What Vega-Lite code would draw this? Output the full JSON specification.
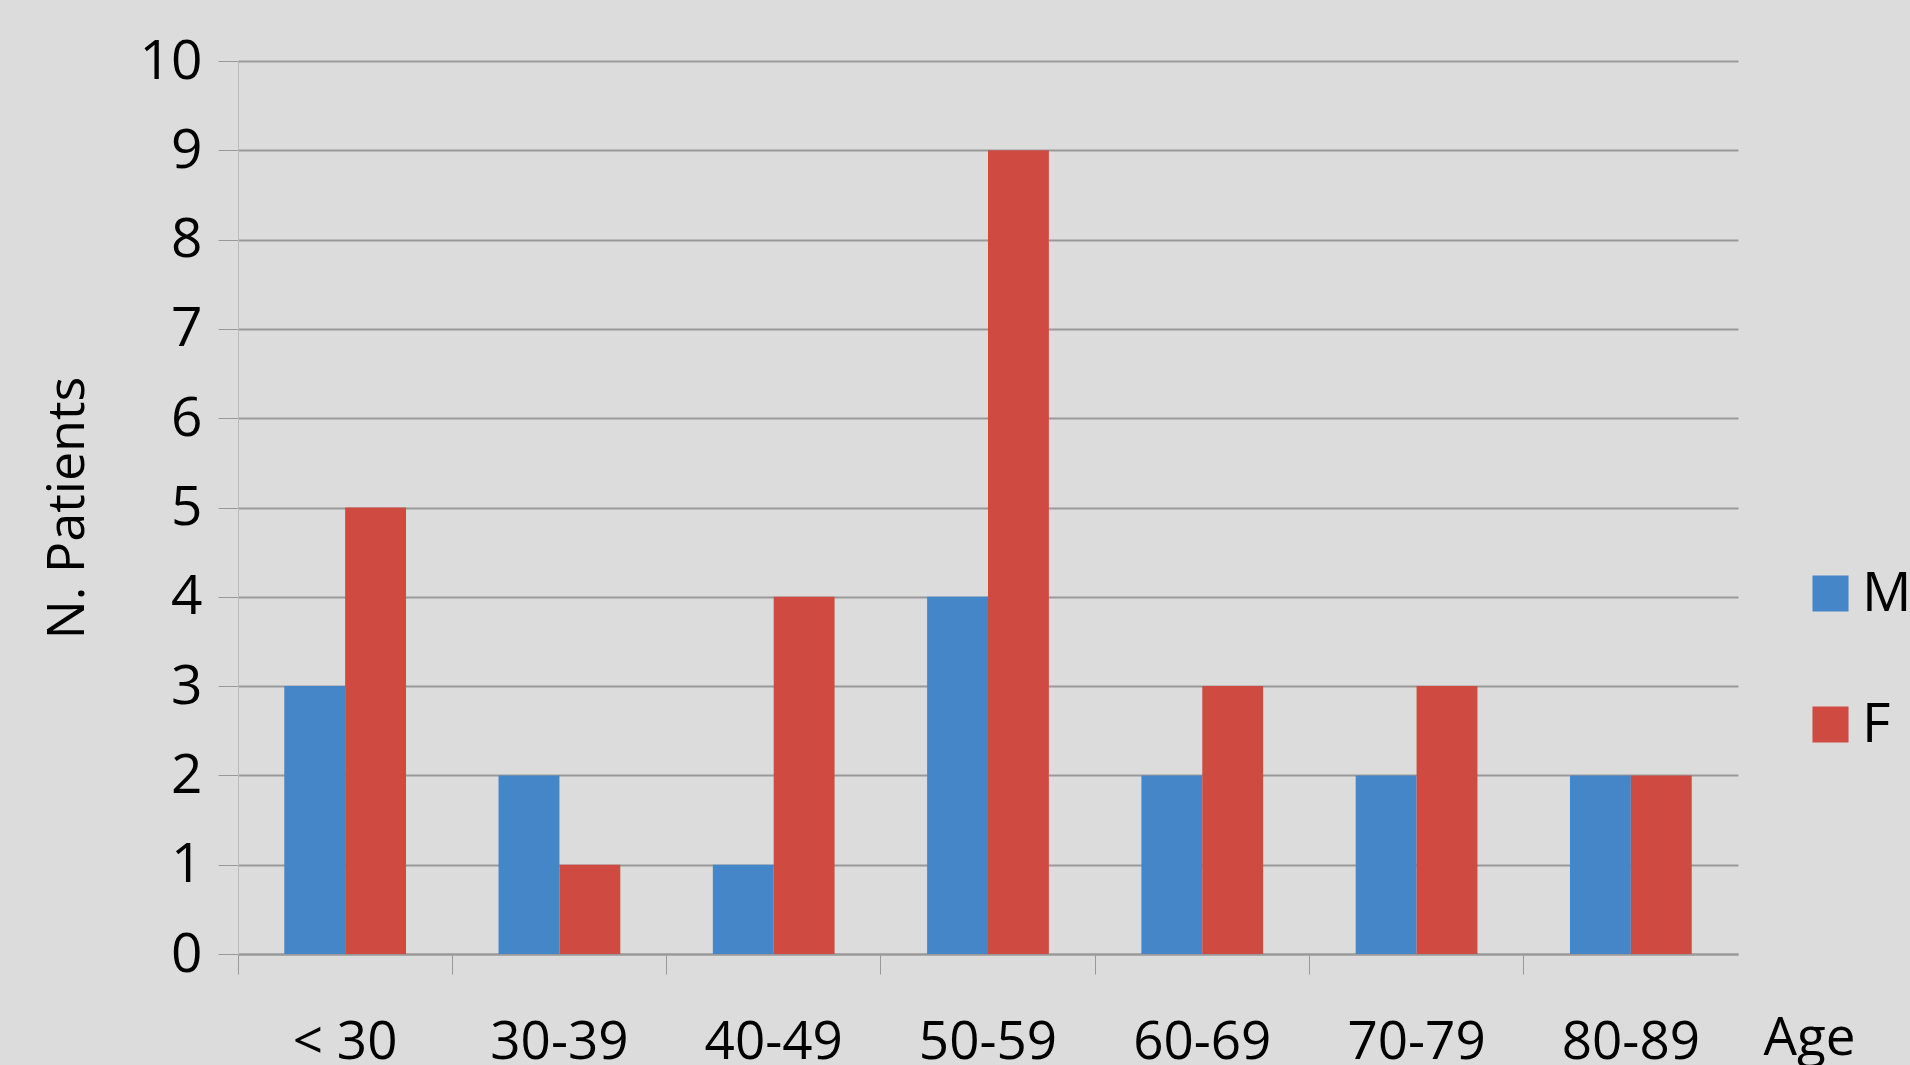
{
  "$schema": "https://vega.github.io/schema/vega-lite/v6.json",
  "width": 1500,
  "height": 893,
  "padding": {"left": 238, "top": 61, "right": 172, "bottom": 111},
  "autosize": {"type": "none"},
  "background": "#dcdcdc",
  "config": {"view": {"stroke": null}, "font": "Open Sans"},
  "data": {
    "values": [
      {"age": "< 30", "sex": "M", "n": 3}, {"age": "< 30", "sex": "F", "n": 5},
      {"age": "30-39", "sex": "M", "n": 2}, {"age": "30-39", "sex": "F", "n": 1},
      {"age": "40-49", "sex": "M", "n": 1}, {"age": "40-49", "sex": "F", "n": 4},
      {"age": "50-59", "sex": "M", "n": 4}, {"age": "50-59", "sex": "F", "n": 9},
      {"age": "60-69", "sex": "M", "n": 2}, {"age": "60-69", "sex": "F", "n": 3},
      {"age": "70-79", "sex": "M", "n": 2}, {"age": "70-79", "sex": "F", "n": 3},
      {"age": "80-89", "sex": "M", "n": 2}, {"age": "80-89", "sex": "F", "n": 2}
    ]
  },
  "mark": {"type": "bar"},
  "encoding": {
    "x": {
      "field": "age", "type": "nominal", "sort": null,
      "scale": {"paddingInner": 0, "paddingOuter": 0},
      "axis": {"title": "Age", "titleAnchor": "start", "titleAlign": "left", "titleX": 1525, "titleY": 58, "titleBaseline": "top",
        "titleFontSize": 53, "titleFontWeight": "normal", "labelFontSize": 53, "labelAngle": 0,
        "labelPadding": 42, "labelColor": "black", "titleColor": "black", "ticks": true, "bandPosition": 0, "tickSize": 20, "tickColor": "#999", "domainColor": "#999", "domainWidth": 2}
    },
    "xOffset": {"field": "sex", "sort": ["M", "F"], "scale": {"paddingInner": 0, "paddingOuter": 0.76}},
    "y": {
      "field": "n", "type": "quantitative", "scale": {"domain": [0, 10]},
      "axis": {"title": "N. Patients", "titleFontSize": 52, "titleFontWeight": "normal", "titleColor": "black",
        "titlePadding": 45, "labelFontSize": 55, "labelColor": "black", "labelPadding": 16, "tickCount": 10,
        "gridColor": "#999", "gridWidth": 2, "domainColor": "#bbb", "ticks": true, "tickColor": "#999", "tickSize": 20}
    },
    "color": {
      "field": "sex", "type": "nominal", "sort": ["M", "F"],
      "scale": {"domain": ["M", "F"], "range": ["#4486c8", "#cf4b42"]},
      "legend": {"title": null, "labelFontSize": 55, "symbolType": "square", "symbolSize": 1300, "symbolStrokeWidth": 0,
        "rowPadding": 75, "labelColor": "black", "orient": "none", "legendX": 1565, "legendY": 505, "offset": 0}
    }
  }
}
